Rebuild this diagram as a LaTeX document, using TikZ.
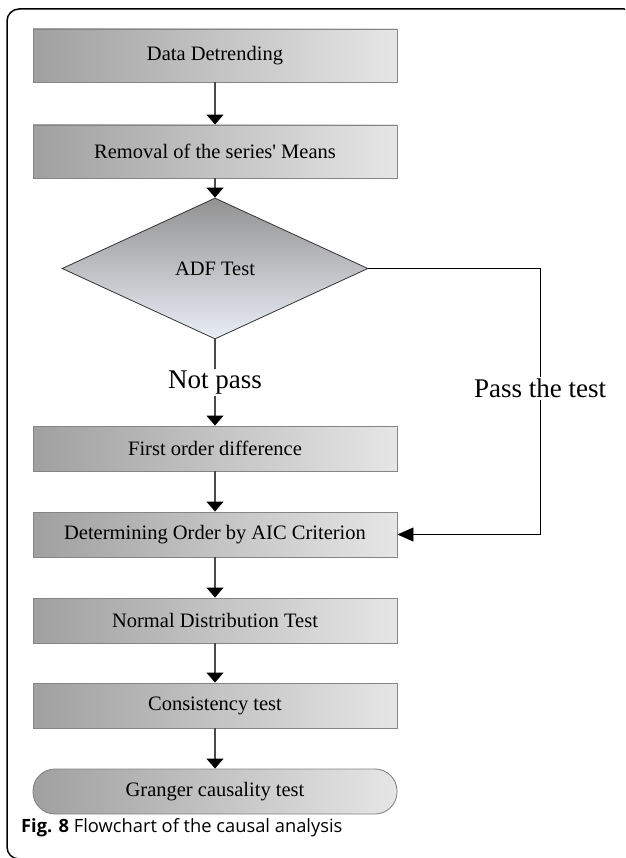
\documentclass[tikz,border=0pt]{standalone}
\usepackage{fontspec}
\setmainfont{Liberation Serif}
\newfontfamily\capfont{Open Sans}
\usetikzlibrary{shapes.geometric,arrows.meta}
\definecolor{boxdark}{HTML}{A0A0A0}
\definecolor{boxlight}{HTML}{E6E6E6}
\definecolor{boxedge}{HTML}{858585}
\definecolor{lineg}{HTML}{4A4A4A}
\definecolor{diatop}{HTML}{929292}
\definecolor{diabot}{HTML}{E9EDF5}
\tikzset{
  stepbox/.style={rectangle, draw=boxedge, line width=0.9pt, left color=boxdark, right color=boxlight,
    minimum width=364pt, minimum height=45pt, inner sep=0pt, font=\fontsize{20.5}{24}\selectfont},
  tallbox/.style={stepbox, minimum height=53pt},
  endbox/.style={stepbox, rounded corners=22pt},
  decide/.style={diamond, draw=black!80, line width=0.8pt, top color=diatop, bottom color=diabot,
    minimum width=306pt, minimum height=141pt, inner sep=0pt, aspect=2.17, font=\fontsize{20.5}{24}\selectfont},
  flow/.style={draw=lineg, line width=1.2pt, -{Triangle[width=17pt,length=10pt,color=black]}},
  sideflow/.style={draw=black, line width=0.9pt, -{Triangle[width=14pt,length=16pt,color=black]}},
  lab/.style={fill=white, inner sep=2pt, font=\fontsize{27}{30}\selectfont},
}
\begin{document}
\begin{tikzpicture}[x=1pt,y=-1pt]
\useasboundingbox (0,0) rectangle (625,858);
\begin{scope}
\clip (0,0) rectangle (625,858);
\draw[black, line width=1.5pt, rounded corners=12pt] (7,9) rectangle (636,859);
\end{scope}

\node[tallbox] (n1) at (215,55.5) {Data Detrending};
\node[tallbox] (n2) at (215,151.5) {Removal of the series\textquotesingle\ Means};
\node[decide] (adf) at (215,268.5) {ADF Test};
\node[stepbox] (n4) at (215,448.5) {First order difference};
\node[stepbox] (n5) at (215,534.5) {Determining Order by AIC Criterion};
\node[stepbox] (n6) at (215,620.5) {Normal Distribution Test};
\node[stepbox] (n7) at (215,705.5) {Consistency test};
\node[endbox] (n8) at (215,791.5) {Granger causality test};

\draw[flow] (n1) -- (n2);
\draw[flow] (n2) -- (adf);
\draw[flow] (adf.south) -- node[lab] {Not pass} (n4);
\draw[flow] (n4) -- (n5);
\draw[flow] (n5) -- (n6);
\draw[flow] (n6) -- (n7);
\draw[flow] (n7) -- (n8);

\coordinate (pc) at (540,534.5);
\draw[sideflow] (adf.east) -| (pc) -- (n5.east);
\node[lab] (pl) at (540,388) {Pass the test};

\node[anchor=base west, inner sep=0pt, font=\capfont\fontsize{18.3}{21}\selectfont] (cap) at (21,832)
  {\textbf{Fig. 8} Flowchart of the causal analysis};
\end{tikzpicture}
\end{document}
